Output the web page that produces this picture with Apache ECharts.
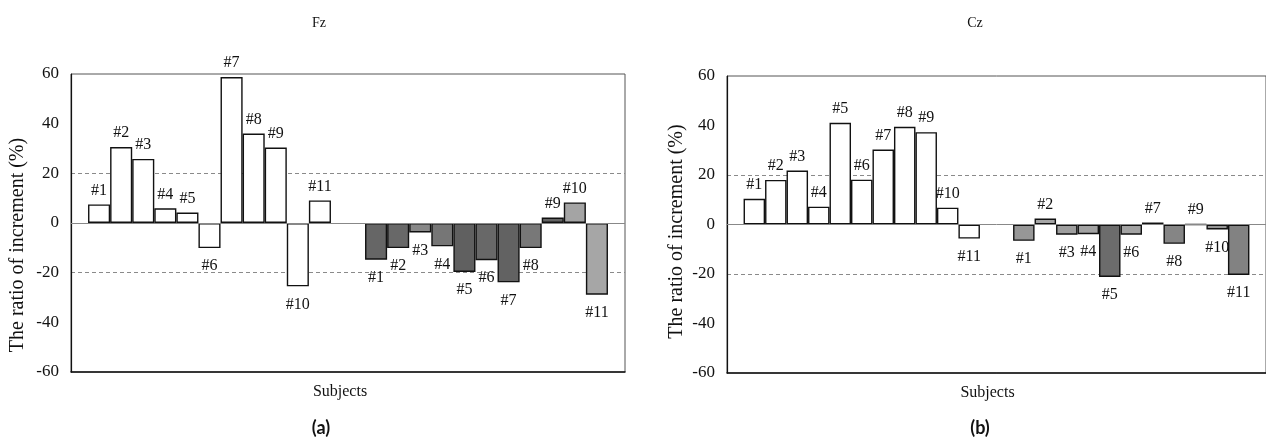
<!DOCTYPE html>
<html>
<head>
<meta charset="utf-8">
<script src="https://cdn.jsdelivr.net/npm/echarts@6/dist/echarts.min.js"></script>
<style>
  html, body { margin: 0; padding: 0; background: #fff; }
  #chart { width: 1266px; height: 438px; }
</style>
</head>
<body>
<div id="chart"></div>
<script>
// two clustered groups per panel, one bar per subject in each group
const groups = ['group 1', 'group 2'];
const subjects = ['#1', '#2', '#3', '#4', '#5', '#6', '#7', '#8', '#9', '#10', '#11'];

// (a) Fz - ratio of increment (%)
const fzFirst = [7.5, 30.6, 25.8, 5.9, 4.2, -10.1, 58.8, 36.0, 30.4, -25.5, 9.1];
const fzSecond = [-14.8, -10.1, -3.8, -9.4, -19.7, -15.0, -23.9, -10.1, 2.2, 8.3, -28.9];

// (b) Cz - ratio of increment (%)
const czFirst = [10.4, 18.0, 21.8, 7.2, 41.1, 18.1, 30.3, 39.5, 37.3, 6.8, -5.7];
const czSecond = [-6.6, 2.4, -4.1, -3.9, -21.2, -4.1, 0.8, -7.8, 0, -2.0, -20.4];

// y axis ticks
const yMin = -60;
const yMax = 60;
const yStep = 20;
const dashedLevels = [20, -20];

// halftone greys of the second group (style only)
const fzSecondFill = ['#666666', '#686868', '#888888', '#767676', '#606060', '#686868', '#626262', '#787878', '#646464', '#a4a4a4', '#a6a6a6'];
const czSecondFill = ['#979797', '#a6a6a6', '#9e9e9e', '#a2a2a2', '#6c6c6c', '#a2a2a2', '#a6a6a6', '#858585', '#959595', '#959595', '#828282'];

const serif = 'Liberation Serif';
const ink = '#111';

const chart = echarts.init(document.getElementById('chart'), null, { renderer: 'canvas' });

const point = (v, fill) => ({
    value: v,
    itemStyle: { color: fill },
    label: { position: v >= 0 ? 'top' : 'bottom', distance: v >= 0 ? 6 : 10 },
});

const panelSeries = (idx, first, second, secondFill) =>
    subjects.map((name, k) => ({
        name,
        type: 'bar',
        xAxisIndex: idx,
        yAxisIndex: idx,
        barGap: '0%',
        barCategoryGap: '12.3%',
        itemStyle: { borderColor: ink, borderWidth: 1.4 },
        label: { show: true, formatter: name, fontFamily: serif, fontSize: 16, color: ink },
        data: [point(first[k], '#ffffff'), point(second[k], secondFill[k])],
        markLine: k === 0 ? {
            silent: true,
            symbol: 'none',
            label: { show: false },
            lineStyle: { color: '#888', type: 'solid', width: 1 },
            data: [{ yAxis: 0 }],
        } : undefined,
    }));

const xAxisOf = (idx, shift) => ({
    type: 'category',
    gridIndex: idx,
    data: groups,
    axisLine: { onZero: false, lineStyle: { color: ink, width: 1.5 } },
    axisTick: { show: false },
    axisLabel: { show: false },
    name: 'Subjects',
    nameLocation: 'middle',
    nameGap: 12,
    nameTextStyle: { fontFamily: serif, fontSize: 16, color: ink, padding: [0, shift, 0, 0] },
});

const yAxisOf = (idx, gap, shift) => ({
    type: 'value',
    gridIndex: idx,
    min: yMin,
    max: yMax,
    interval: yStep,
    axisLine: { show: true, lineStyle: { color: ink, width: 1.2 } },
    axisTick: { show: false },
    axisLabel: { fontFamily: serif, fontSize: 17, color: ink, margin: 12 },
    splitLine: {
        show: true,
        lineStyle: {
            type: [4, 3],
            width: 1,
            // only the +-20 levels carry a dashed line
            color: [yMin, -40, -20, 0, 20, 40, yMax].map((v) => (dashedLevels.includes(v) ? '#8a8a8a' : 'rgba(0,0,0,0)')),
        },
    },
    name: 'The ratio of increment (%)',
    nameLocation: 'middle',
    nameRotate: 90,
    nameGap: gap,
    nameTextStyle: { fontFamily: serif, fontSize: 20, color: ink, padding: [0, shift, 0, 0] },
});

chart.setOption({
    backgroundColor: '#fff',
    animation: false,
    title: [
        { text: 'Fz', left: 314, top: 11, textAlign: 'center', textStyle: { fontFamily: serif, fontSize: 14, fontWeight: 'normal', color: ink } },
        { text: 'Cz', left: 970, top: 11, textAlign: 'center', textStyle: { fontFamily: serif, fontSize: 14, fontWeight: 'normal', color: ink } },
        { text: '(a)', left: 316, top: 414, textAlign: 'center', textStyle: { fontFamily: 'Lato', fontSize: 18, fontWeight: 'bold', color: ink } },
        { text: '(b)', left: 975, top: 414, textAlign: 'center', textStyle: { fontFamily: 'Lato', fontSize: 18, fontWeight: 'bold', color: ink } },
    ],
    grid: [
        { left: 71, right: 641, top: 74, bottom: 66, show: true, borderColor: '#555', borderWidth: 1 },
        { left: 727, right: -12, top: 76, bottom: 65, show: true, borderColor: '#555', borderWidth: 1 },
    ],
    xAxis: [xAxisOf(0, 16), xAxisOf(1, 18)],
    yAxis: [yAxisOf(0, 43, 44), yAxisOf(1, 40, 14)],
    series: [
        ...panelSeries(0, fzFirst, fzSecond, fzSecondFill),
        ...panelSeries(1, czFirst, czSecond, czSecondFill),
    ],
});
</script>
</body>
</html>
